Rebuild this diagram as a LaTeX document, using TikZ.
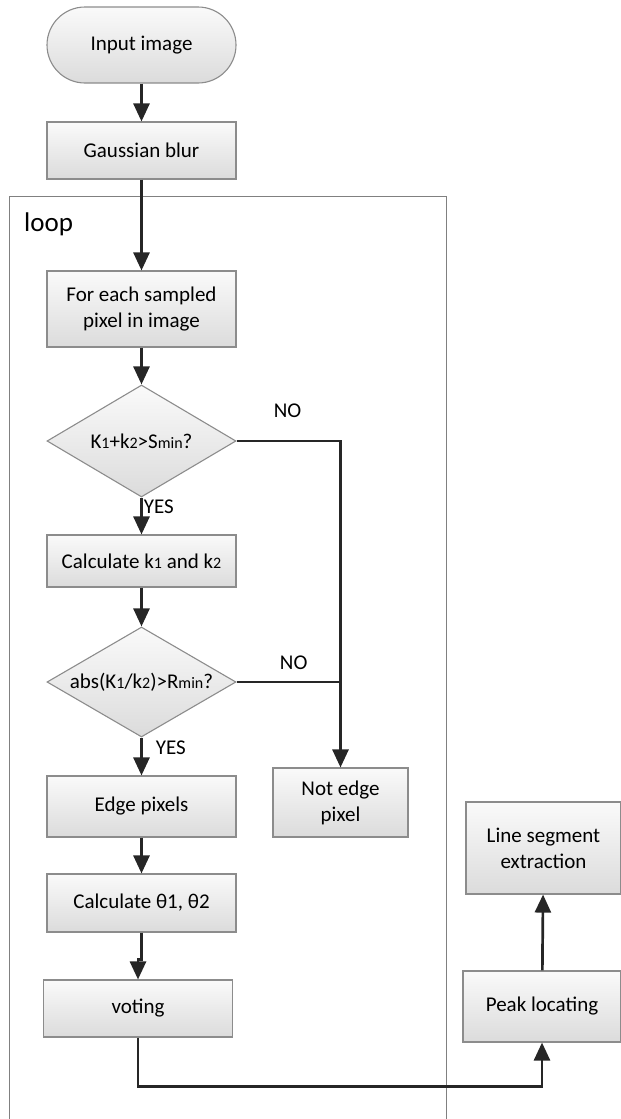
\documentclass[tikz,border=0pt]{standalone}
\usepackage{fontspec}
\setmainfont{Carlito}
\usetikzlibrary{shapes.geometric,arrows.meta,positioning}
\tikzstyle{procbox} = [draw=black!45, line width=1.1pt, rectangle, top color=black!2, bottom color=black!14, minimum width=189pt, minimum height=58pt, align=center, font=\fontsize{21}{26}\selectfont, inner sep=2pt]
\tikzstyle{termbox} = [procbox, rounded corners=38pt, minimum height=76pt]
\tikzstyle{decbox} = [procbox, diamond, aspect=1.69, minimum height=112pt, inner sep=0pt]
\tikzstyle{flowline} = [line width=2.7pt, draw=black!85, -{Triangle[length=18pt,width=16pt]}]
\tikzstyle{plainline} = [line width=2.7pt, draw=black!85]
\tikzstyle{marklabel} = [font=\fontsize{21}{26}\selectfont, inner sep=1pt]
\newcommand{\lo}[1]{{\fontsize{16}{16}\selectfont #1}}

\begin{document}
\begin{tikzpicture}[x=1pt,y=-1pt]
\useasboundingbox (0,0) rectangle (621,1119);
% loop frame
\draw[draw=black!50, line width=0.9pt] (9,1119) -- (9,196) -- (446,196) -- (446,1119);
\node[marklabel, anchor=west, font=\fontsize{27}{30}\selectfont] (looplbl) at (23,224) {loop};

\node[termbox] (input) at (141.5,45) {Input image};
\node[procbox, minimum height=57pt] (blur) at (141.5,150.5) {Gaussian blur};
\node[procbox, minimum height=76pt] (each) at (141.5,309) {For each sampled\\pixel in image};
\node[decbox] (kcheck) at (141.5,441) {K\lo{1}+k\lo{2}>S\lo{min}?};
\node[procbox, minimum height=52pt] (calck) at (141.5,561) {Calculate k\lo{1} and k\lo{2}};
\node[decbox, minimum height=110pt] (rcheck) at (141.5,682) {abs(K\lo{1}/k\lo{2})>R\lo{min}?};
\node[procbox, minimum height=61pt] (edge) at (141.5,806.5) {Edge pixels};
\node[procbox, minimum height=58pt] (theta) at (141.5,903) {Calculate θ1, θ2};
\node[procbox, minimum height=57pt] (vote) at (138,1008.5) {voting};
\node[procbox, minimum width=135pt, minimum height=69pt] (notedge) at (340.5,802.5) {Not edge\\pixel};
\node[procbox, minimum width=155pt, minimum height=92pt] (lineseg) at (543.5,848) {Line segment\\extraction};
\node[procbox, minimum width=158pt, minimum height=71pt] (peak) at (542,1006.5) {Peak locating};

% connectors
\draw[flowline] (input) -- (blur);
\draw[flowline] (blur) -- (each);
\draw[flowline] (each) -- (kcheck);
\draw[flowline] (kcheck) -- node[marklabel, right, pos=0.24] (yes1) {YES} (calck);
\draw[flowline] (calck) -- (rcheck);
\draw[flowline] (rcheck) -- node[marklabel, right, pos=0.28, xshift=12pt] (yes2) {YES} (edge);
\draw[flowline] (edge) -- (theta);
\draw[flowline] (theta.south) -- ++(0,27) -| (vote.north);
\draw[flowline] (kcheck.east) -| node[marklabel, pos=0.245, yshift=30pt] (no1) {NO} (notedge.north);
\draw[plainline] (rcheck.east) -- node[marklabel, pos=0.55, yshift=19pt] (no2) {NO} (rcheck.east -| notedge.north);
\draw[flowline] (vote.south) -- ++(0,49) -| (peak.south);
\draw[flowline] (peak) -- (lineseg);
\end{tikzpicture}
\end{document}
